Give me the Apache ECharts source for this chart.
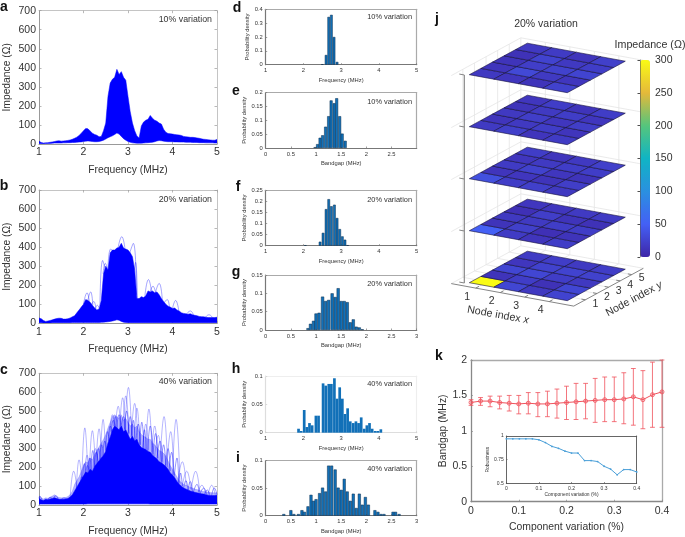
<!DOCTYPE html>
<html><head><meta charset="utf-8">
<style>html,body{margin:0;padding:0;background:#fff}#c{width:685px;height:537px}</style>
<script src="https://cdn.jsdelivr.net/npm/echarts@6/dist/echarts.min.js"></script>
</head><body><div id="c"></div>
<script>
const freqMHz=[1.00,1.05,1.10,1.15,1.20,1.25,1.30,1.35,1.40,1.45,
1.50,1.55,1.60,1.65,1.70,1.75,1.80,1.85,1.90,1.95,
2.00,2.05,2.10,2.15,2.20,2.25,2.30,2.35,2.40,2.45,
2.50,2.55,2.60,2.65,2.70,2.75,2.80,2.85,2.90,2.95,
3.00,3.05,3.10,3.15,3.20,3.25,3.30,3.35,3.40,3.45,
3.50,3.55,3.60,3.65,3.70,3.75,3.80,3.85,3.90,3.95,
4.00,4.05,4.10,4.15,4.20,4.25,4.30,4.35,4.40,4.45,
4.50,4.55,4.60,4.65,4.70,4.75,4.80,4.85,4.90,4.95,5.00];

const aUpper=[15,8,5,6,7,9,11,13,16,17,
15,16,17,19,21,25,30,36,45,56,
70,82,80,68,57,50,46,38,40,70,
110,250,320,340,350,392,365,380,350,335,
250,170,110,70,42,32,95,115,125,130,
150,135,125,120,110,105,78,62,55,54,
52,50,48,47,45,40,38,37,35,35,
34,32,30,27,25,24,22,21,20,20,24];
const aLower=[2,1,1,2,3,3,4,5,5,5,
5,6,6,7,7,8,8,9,10,11,
13,15,16,15,13,12,12,13,16,20,
26,33,38,43,50,58,52,40,28,20,
13,9,6,5,4,4,4,5,6,7,
8,9,12,16,18,17,15,13,12,12,
12,11,11,10,10,10,9,9,9,8,
8,8,7,7,7,6,6,6,6,5,5];

const bUpper=[28,24,15,10,12,15,18,22,25,27,
26,22,22,24,28,34,40,55,70,85,
100,125,120,110,95,80,70,75,120,260,
300,280,370,385,385,395,400,420,395,390,
385,370,350,280,130,130,140,135,145,170,
165,170,160,165,150,130,115,100,90,85,
78,80,70,65,55,52,50,48,50,45,
42,40,36,35,34,32,30,30,30,30,32];
const bLower=[3,3,2,2,2,2,3,3,3,3,
3,3,3,3,3,4,4,4,4,4,
4,4,4,4,4,4,4,4,5,6,
7,8,10,12,15,18,16,10,6,4,
3,3,3,3,3,3,3,3,3,3,
3,3,3,3,3,3,3,3,3,3,
3,3,3,3,3,3,3,3,3,3,
3,3,3,3,3,3,3,3,3,3,3];
const bSpikes=[[2.00,100,2.08,160,2.13,115],[2.09,110,2.16,165,2.21,95],[2.17,90,2.23,115,2.28,75],[2.26,75,2.31,95,2.36,75],
[2.37,90,2.43,330,2.49,280],[2.44,260,2.49,315,2.54,280],[2.55,290,2.61,390,2.66,380],[2.78,400,2.86,455,2.93,395],[3.04,370,3.12,420,3.19,150],[3.14,280,3.17,320,3.21,130],
[3.38,145,3.46,230,3.53,165],[3.50,165,3.56,195,3.62,160],[3.62,165,3.70,210,3.77,125],[3.82,110,3.88,125,3.93,88],[4.00,78,4.07,120,4.14,68],[4.32,50,4.40,65,4.47,45],[4.74,32,4.82,45,4.90,30]];

const cDense=[35,28,24,30,28,32,35,38,34,30,
30,30,32,35,42,55,75,95,115,135,
155,175,170,190,180,205,220,235,250,265,
285,330,360,400,420,410,400,420,390,400,
375,350,365,340,350,320,305,300,295,285,
280,265,255,245,230,225,215,205,190,170,
160,145,125,110,100,90,85,80,75,72,
68,65,62,60,58,55,52,50,50,50,52];
const cHaze=[45,38,32,38,36,42,48,55,44,40,
38,38,40,45,55,75,110,130,150,180,
210,230,225,250,240,270,290,310,330,350,
375,410,440,470,480,470,460,480,450,460,
440,420,430,410,420,390,375,365,360,350,
350,330,320,305,290,285,275,260,235,210,
190,170,150,130,120,110,105,100,95,90,
85,82,78,75,72,70,68,66,65,65,65];
const cLower=[5,5,5,5,5,5,5,5,5,5,
5,5,5,5,5,5,5,5,5,5,
5,5,6,6,6,6,6,6,6,6,
6,6,6,6,6,6,6,6,6,6,
6,6,6,6,6,6,6,6,6,6,
5,5,5,5,5,5,5,5,5,5,
5,5,5,5,5,5,5,5,5,5,
5,5,5,5,5,5,5,5,5,5,5];
const cSpikes=[[1.70,40,1.78,180,1.86,70],[1.84,80,1.90,240,1.97,110],[1.96,120,2.03,410,2.10,140],[2.02,150,2.08,265,2.14,160],
[2.13,170,2.20,395,2.27,200],[2.21,170,2.27,300,2.33,210],[2.28,200,2.35,405,2.41,230],[2.38,240,2.44,455,2.50,260],
[2.58,330,2.65,480,2.71,400],[2.71,400,2.78,525,2.84,400],[2.81,400,2.88,570,2.94,400],[2.88,400,2.95,580,3.02,380],[2.93,400,3.01,625,3.08,370],
[3.07,360,3.15,540,3.22,340],[3.14,340,3.20,515,3.27,320],[3.33,300,3.40,430,3.46,290],[3.40,290,3.47,510,3.54,280],[3.53,270,3.60,420,3.67,240],
[3.60,260,3.68,370,3.75,230],[3.72,230,3.81,470,3.89,200],[3.87,200,3.96,390,4.03,160],[4.00,160,4.08,455,4.17,110],[4.12,120,4.22,230,4.31,100],
[4.22,100,4.32,180,4.41,85],[4.42,80,4.52,180,4.61,70],[4.58,70,4.66,105,4.74,60],[4.80,55,4.88,105,4.96,55]];
const cFine=[[1.92,90,1.96,150,2.0,120],[1.98,130,2.02,220,2.06,150],[2.05,160,2.09,210,2.13,170],[2.1,170,2.14,250,2.18,180],[2.16,180,2.21,290,2.25,200],[2.24,200,2.29,280,2.33,220],[2.3,220,2.34,300,2.38,240],[2.36,240,2.41,320,2.45,260],[2.43,260,2.48,340,2.52,290],[2.5,290,2.54,390,2.58,340],[2.56,340,2.6,420,2.64,380],[2.62,390,2.67,450,2.71,420],[2.68,420,2.72,470,2.76,410],[2.74,400,2.8,480,2.84,420],[2.84,410,2.9,470,2.94,400],[2.92,400,2.97,500,3.02,380],[3.0,370,3.05,470,3.1,360],[3.08,360,3.12,450,3.16,340],[3.18,340,3.23,430,3.28,320],[3.26,310,3.31,440,3.36,300],[3.34,300,3.37,400,3.41,295],[3.44,285,3.5,420,3.56,270],[3.56,260,3.62,380,3.67,250],[3.65,245,3.72,340,3.78,225],[3.75,225,3.8,320,3.85,210],[3.84,205,3.9,300,3.95,180],[3.92,180,3.98,280,4.03,160],[4.04,150,4.1,250,4.14,115],[4.14,110,4.18,170,4.22,100],[4.25,90,4.3,130,4.35,80],[4.35,80,4.4,125,4.45,72],[4.47,70,4.55,110,4.6,62],[4.62,60,4.7,90,4.77,55],[4.72,55,4.78,80,4.84,52],[4.88,50,4.94,90,5.0,55],[1.0,35,1.02,48,1.06,30],[1.2,28,1.25,40,1.3,35],[1.33,38,1.38,50,1.43,32],[1.5,30,1.56,38,1.62,32]];

const histD=[[2.50,.003],[2.60,.07],[2.67,.345],[2.74,.36],[2.81,.2],[2.89,.02]];
const histE=[[.98,.003],[1.03,.014],[1.08,.037],[1.13,.046],[1.19,.077],[1.25,.115],[1.30,.172],[1.36,.162],[1.41,.18],[1.47,.115],[1.52,.052],[1.58,.026]];
const histF=[[2.05,.002],[2.44,.018],[2.52,.058],[2.60,.165],[2.67,.21],[2.74,.178],[2.82,.185],[2.89,.125],[2.96,.075],[3.03,.042],[3.10,.027],[3.17,.002]];
const histG=[[.84,.005],[.89,.017],[.95,.025],[1.0,.045],[1.06,.047],[1.13,.091],[1.19,.079],[1.25,.082],[1.32,.1],[1.38,.09],[1.44,.114],[1.5,.079],[1.56,.079],[1.62,.076],[1.68,.021],[1.74,.029],[1.8,.009],[1.86,.007],[1.92,.002]];
const histH=[[1.87,.007],[1.94,.003],[2.02,.04],[2.09,.01],[2.16,.017],[2.23,.013],[2.33,.03],[2.40,.03],[2.52,.087],[2.59,.083],[2.67,.086],[2.74,.086],[2.82,.096],[2.89,.06],[2.96,.08],[3.03,.06],[3.10,.033],[3.17,.043],[3.24,.02],[3.32,.017],[3.39,.02],[3.46,.017],[3.53,.027],[3.61,.007],[3.68,.013],[3.75,.017],[3.82,.007],[3.90,.003],[3.97,.003],[4.05,.006]];
const histI=[[.36,.003],[.5,.01],[.56,.003],[.65,.003],[.72,.01],[.77,.007],[.84,.017],[.9,.038],[.95,.027],[1.0,.03],[1.07,.041],[1.13,.051],[1.19,.044],[1.25,.091],[1.31,.091],[1.38,.084],[1.44,.051],[1.5,.047],[1.56,.067],[1.62,.044],[1.68,.027],[1.74,.04],[1.8,.014],[1.86,.04],[1.92,.02],[1.98,.034],[2.04,.02],[2.17,.01],[2.23,.007],[2.29,.003],[2.35,.003],[2.53,.007],[2.58,.007],[2.65,.003]];

const variation=[0,.02,.04,.06,.08,.1,.12,.14,.16,.18,.2,.22,.24,.26,.28,.3,.32,.34,.36,.38,.4];
const bandgapMean=[1.40,1.42,1.42,1.40,1.39,1.38,1.39,1.38,1.38,1.39,1.40,1.41,1.42,1.43,1.44,1.44,1.45,1.48,1.44,1.51,1.55];
const bandgapHigh=[1.44,1.47,1.49,1.49,1.50,1.50,1.54,1.54,1.56,1.59,1.63,1.67,1.67,1.74,1.76,1.76,1.82,1.88,1.85,1.97,2.0];
const bandgapLow=[1.36,1.36,1.34,1.31,1.28,1.24,1.24,1.20,1.20,1.18,1.16,1.16,1.17,1.12,1.13,1.13,1.10,1.08,1.03,1.05,1.05];
const robustness=[.97,.97,.97,.97,.97,.96,.93,.89,.87,.84,.82,.82,.74,.74,.73,.68,.65,.59,.645,.645,.62];

// impedance per plane: layer -> node x -> node y
const planes=[
[[300,12,28,14,18],[28,20,28,24,20],[16,10,20,25,17],[25,28,16,24,20]],
[[50,12,16,9,14],[18,22,17,21,14],[13,9,20,12,17],[20,12,20,10,18]],
[[36,13,18,14,20],[20,14,24,17,13],[22,12,14,20,16],[16,21,12,20,22]],
[[17,13,16,12,14],[22,16,21,17,20],[13,20,14,20,12],[18,13,21,14,20]],
[[16,13,12,10,16],[14,30,21,25,18],[12,17,24,16,13],[24,14,26,20,22]]
];
const nodeXTicks=['1','2','3','4'];
const nodeYTicks=['1','2','3','4','5'];
const colorbarStops=['#3e26a8','#4460f5','#2a90e0','#10b4c4','#55c57c','#e5b93a','#f9fb15'];

// oblique projection of the 3D panel (settings, not data)
const O=[469.3,282.7],U=[24.5,4.5],V=[11.6,-6.3],W=[0,-52];
const proj=(a,b,z)=>[O[0]+a*U[0]+b*V[0]+z*W[0],O[1]+a*U[1]+b*V[1]+z*W[1]];

const FONT='"Liberation Sans",Arial,sans-serif';
const grid=[],xAxis=[],yAxis=[],series=[],graphic=[];

function addAxes(box,o){
  const g=grid.length;
  grid.push({left:box[0],top:box[1],width:box[2]-box[0],height:box[3]-box[1],show:false,containLabel:false});
  const line={lineStyle:{color:o.lineColor,width:o.lineWidth}};
  const xi=xAxis.length,yi=yAxis.length;
  const lab={fontFamily:FONT,fontSize:o.tick,color:o.textColor||'#333',margin:o.margin||3};
  xAxis.push({gridIndex:g,type:'value',min:o.x[0],max:o.x[1],interval:o.x[2],position:'bottom',splitLine:{show:false},
    axisLine:{show:true,onZero:false,...line},axisTick:{inside:true,length:o.tickLen,lineStyle:{color:o.tickColor||o.lineColor,width:.7}},
    axisLabel:{...lab,showMaxLabel:o.showMaxX!==false,formatter:v=>String(+v.toFixed(2))},
    name:o.xName,nameLocation:'middle',nameGap:o.xGap,nameTextStyle:{fontFamily:FONT,fontSize:o.name,color:'#333'}});
  yAxis.push({gridIndex:g,type:'value',min:o.y[0],max:o.y[1],interval:o.y[2],position:'left',splitLine:{show:false},
    axisLine:{show:true,onZero:false,...line},axisTick:{inside:true,length:o.tickLen,lineStyle:{color:o.tickColor||o.lineColor,width:.7}},
    axisLabel:{...lab,formatter:v=>String(+v.toFixed(3))},
    name:o.yName,nameLocation:'middle',nameGap:o.yGap,nameRotate:90,nameTextStyle:{fontFamily:FONT,fontSize:o.name,color:'#333'}});
  xAxis.push({gridIndex:g,type:'value',min:o.x[0],max:o.x[1],interval:o.x[2],position:'top',splitLine:{show:false},
    axisLine:{show:true,onZero:false,lineStyle:{color:o.boxColor||o.lineColor,width:o.lineWidth}},
    axisTick:{show:!!o.boxTicks,inside:true,length:o.tickLen,lineStyle:{color:o.lineColor,width:.7}},axisLabel:{show:false}});
  yAxis.push({gridIndex:g,type:'value',min:o.y[0],max:o.y[1],interval:o.y[2],position:'right',splitLine:{show:false},
    axisLine:{show:true,onZero:false,lineStyle:{color:o.boxColor||o.lineColor,width:o.lineWidth}},
    axisTick:{show:!!o.boxTicks,inside:true,length:o.tickLen,lineStyle:{color:o.lineColor,width:.7}},axisLabel:{show:false}});
  return {xi,yi};
}
// filled envelope between two curves, drawn once from all rows of the series
function band(ax,lower,upper,opacity){
  series.push({type:'custom',xAxisIndex:ax.xi,yAxisIndex:ax.yi,silent:true,animation:false,clip:true,
    data:freqMHz.map((f,i)=>[f,lower[i],upper[i]]),encode:{x:0,y:[1,2]},
    renderItem(p,api){
      if(p.dataIndexInside!==0) return null;
      const top=[],bot=[];
      for(let i=0;i<p.dataInsideLength;i++){
        top.push(api.coord([api.value(0,i),api.value(2,i)]));
        bot.push(api.coord([api.value(0,i),api.value(1,i)]));
      }
      return {type:'polygon',shape:{points:top.concat(bot.reverse())},style:{fill:'#0000ff',stroke:'#0000ff',lineWidth:.5,opacity}};
    }});
}
function spikes(ax,list,opacity){
  const data=[];
  list.forEach(s=>{data.push([s[0],s[1]],[s[2],s[3]],[s[4],s[5]],[s[4],'-']);});
  series.push({type:'line',xAxisIndex:ax.xi,yAxisIndex:ax.yi,symbol:'none',smooth:.5,connectNulls:false,silent:true,animation:false,
    data,lineStyle:{width:.7,color:'#0000ff',opacity}});
}
function label(text,x,y,o){graphic.push({type:'text',x,y,silent:true,z:50,rotation:o&&o.rotation||0,style:{text,fill:o&&o.fill||'#333',font:(o&&o.font)||'8.8px '+FONT,textAlign:o&&o.align||'right',textVerticalAlign:'middle',rich:o&&o.rich}});}

const wide={x:[1,5,1],y:[0,700,100],tick:10.5,name:10.3,tickLen:2.5,lineColor:'#999',boxColor:'#c4c4c4',lineWidth:1,boxTicks:true,xName:'Frequency (MHz)',yName:'Impedance (Ω)',xGap:21,yGap:27,margin:3};
const axA=addAxes([39,10.7,217,144],wide);
band(axA,aLower,aUpper,1);
const axB=addAxes([39,190,217,323.3],wide);
band(axB,bLower,bUpper,1); spikes(axB,bSpikes,.5);
const axC=addAxes([39,373.3,217,506.7],wide);
band(axC,cLower,cHaze,.3); band(axC,cLower,cDense,1); spikes(axC,cFine,.6); spikes(axC,cSpikes,.42);

function hist(box,data,xr,yr,xName,width,o){
  const ax=addAxes(box,{x:xr,y:yr,tick:5.8,name:5.8,tickLen:1.5,lineColor:'#777',boxColor:'#aaa',lineWidth:1.2,xName,yName:'Probability density',xGap:12.5,yGap:o.yGap||18,margin:3,...o});
  series.push({type:'bar',xAxisIndex:ax.xi,yAxisIndex:ax.yi,data,barWidth:width,silent:true,animation:false,
    itemStyle:{color:'#1170b8',borderColor:o.edge||'#0b2c4c',borderWidth:o.edgeW===undefined?.5:o.edgeW}});
}
hist([265.7,9.3,416.7,64.7],histD,[1,5,1],[0,.4,.1],'Frequency (MHz)',2.6,{yGap:13});
hist([265.7,92.7,416.7,148],histE,[0,3,.5],[0,.2,.05],'Bandgap (MHz)',2.9,{showMaxX:false,yGap:16});
hist([265.7,190.3,416.7,245.7],histF,[1,5,1],[0,.25,.05],'Frequency (MHz)',2.6,{yGap:16});
hist([265.7,275,416.7,330],histG,[0,3,.5],[0,.15,.05],'Bandgap (MHz)',3.1,{yGap:16});
hist([265.7,376,416.7,432.7],histH,[1,5,1],[0,.1,.05],'Frequency (MHz)',2.7,{lineColor:'#ddd',boxColor:'#eee',tickColor:'#ccc',edge:'#1170b8',edgeW:0,yGap:16});
hist([265.7,460.7,416.7,515.7],histI,[0,3,.5],[0,.1,.05],'Bandgap (MHz)',3,{yGap:16});

// panel k
const axK=addAxes([471,360,662,501.7],{x:[0,.4,.1],y:[0,2,.5],tick:10.5,name:10.4,tickLen:2,lineColor:'#888',boxColor:'#aaa',lineWidth:1.3,xName:'Component variation (%)',yName:'Bandgap (MHz)',xGap:20,yGap:22,margin:4});
series.push({type:'custom',xAxisIndex:axK.xi,yAxisIndex:axK.yi,silent:true,animation:false,
  data:variation.map((v,i)=>[v,bandgapLow[i],bandgapHigh[i]]),encode:{x:0,y:[1,2]},
  renderItem(p,api){
    const a=api.coord([api.value(0),api.value(1)]),b=api.coord([api.value(0),api.value(2)]),w=2.4;
    const st={stroke:'#f0525c',lineWidth:1,fill:null,opacity:.8};
    return {type:'group',children:[
      {type:'line',shape:{x1:a[0],y1:a[1],x2:b[0],y2:b[1]},style:st},
      {type:'line',shape:{x1:a[0]-w,y1:a[1],x2:a[0]+w,y2:a[1]},style:st},
      {type:'line',shape:{x1:b[0]-w,y1:b[1],x2:b[0]+w,y2:b[1]},style:st}]};
  }});
series.push({type:'line',xAxisIndex:axK.xi,yAxisIndex:axK.yi,silent:true,animation:false,data:variation.map((v,i)=>[v,bandgapMean[i]]),
  symbol:'circle',symbolSize:4,lineStyle:{color:'#f0525c',width:1},itemStyle:{color:'rgba(240,82,92,.15)',borderColor:'#f0525c',borderWidth:.8}});
const axIn=addAxes([506.3,436,636.7,483.3],{x:[0,.4,.1],y:[.5,1,.25],tick:5,name:4.9,tickLen:1.2,lineColor:'#555',lineWidth:.9,xName:'Component variation (%)',yName:'Robustness',xGap:8,yGap:13,margin:2.5});
series.push({type:'line',xAxisIndex:axIn.xi,yAxisIndex:axIn.yi,silent:true,animation:false,data:variation.map((v,i)=>[v,robustness[i]]),
  symbol:'circle',symbolSize:1.8,lineStyle:{color:'#4a9fd8',width:1},itemStyle:{color:'#4a9fd8'}});

// panel j: hidden page-sized cartesian used for the projected planes
const gi=grid.length;
grid.push({left:0,top:0,width:685,height:537,show:false});
const jx=xAxis.length,jy=yAxis.length;
xAxis.push({gridIndex:gi,type:'value',min:0,max:685,show:false});
yAxis.push({gridIndex:gi,type:'value',min:0,max:537,inverse:true,show:false});

// wall / floor guide lines: [a0,b0,z0,a1,b1,z1,kind]
const aMin=-.5,aMax=4.5,bMin=-.5,bMax=5.5,zTop=4;
const guides=[];
[0,1,2,3,4].forEach(z=>{guides.push([aMin,bMin,z,aMin,bMax,z,0],[aMin,bMax,z,aMax,bMax,z,0]);});
nodeXTicks.forEach((t,i)=>{const a=i+.5;guides.push([a,bMax,0,a,bMax,zTop,0],[a,bMin,0,a,bMax,0,0]);});
nodeYTicks.forEach((t,i)=>{const b=i+.5;guides.push([aMin,b,0,aMin,b,zTop,0],[aMin,b,0,aMax,b,0,0]);});
guides.push([aMin,bMax,0,aMin,bMax,zTop,0]);
guides.push([aMin,bMin,0,aMax,bMin,0,1],[aMax,bMin,0,aMax,bMax,0,1]);
[0,1,2,3,4].forEach(z=>{guides.push([-.135,-.144,z,-.34,-.144,z,1]);});
guides.push([-.135,-.144,0,-.135,-.144,zTop,2]);
nodeXTicks.forEach((t,i)=>{guides.push([i+.5,bMin,0,i+.5,bMin+.28,0,1]);});
nodeYTicks.forEach((t,i)=>{guides.push([aMax,i+.5,0,aMax-.16,i+.5,0,1]);});
const guideStyle=[{stroke:'#e4e4e4',lineWidth:.8},{stroke:'#777',lineWidth:.9},{stroke:'#8a8a8a',lineWidth:1.2}];
series.push({type:'custom',xAxisIndex:jx,yAxisIndex:jy,silent:true,animation:false,data:guides,encode:{x:0,y:1},z:1,
  renderItem(p,api){
    const v=i=>api.value(i);
    const a=api.coord(proj(v(0),v(1),v(2))),b=api.coord(proj(v(3),v(4),v(5)));
    return {type:'line',shape:{x1:a[0],y1:a[1],x2:b[0],y2:b[1]},style:guideStyle[v(6)]};
  }});

const cells=[];
planes.forEach((pl,z)=>pl.forEach((row,a)=>row.forEach((val,b)=>cells.push([a,b,z,val]))));
const cellSeriesIndex=series.length;
series.push({type:'custom',xAxisIndex:jx,yAxisIndex:jy,silent:true,animation:false,data:cells,dimensions:['a','b','z','impedance'],encode:{x:0,y:1},z:3,
  renderItem(p,api){
    const a=api.value(0),b=api.value(1),z=api.value(2);
    const pts=[[a,b],[a+1,b],[a+1,b+1],[a,b+1]].map(q=>api.coord(proj(q[0],q[1],z)));
    return {type:'polygon',shape:{points:pts},style:{fill:api.visual('color'),stroke:'#15103a',lineWidth:.6}};
  }});

// colour bar axis
const gb=grid.length;
grid.push({left:640,top:60,width:10,height:197,show:false});
xAxis.push({gridIndex:gb,type:'value',min:0,max:1,position:'bottom',axisLabel:{show:false},axisTick:{show:false},splitLine:{show:false},axisLine:{show:false}});
yAxis.push({gridIndex:gb,type:'value',min:0,max:300,interval:50,position:'right',z:9,splitLine:{show:false},
  axisLine:{show:true,lineStyle:{color:'#555',width:.6}},axisTick:{inside:true,length:2.5,lineStyle:{color:'#222',width:.8}},
  axisLabel:{fontFamily:FONT,fontSize:10.5,color:'#333',margin:5}});

label('10% variation',212,20); label('20% variation',212,200); label('40% variation',212,382);
[[412,17,'10%'],[412,102,'10%'],[412,200,'20%'],[412,284,'20%'],[412,384,'40%'],[412,469,'40%']].forEach(t=>label(t[2]+' variation',t[0],t[1],{font:'7.4px '+FONT}));
label('20% variation',546,24,{font:'10.5px '+FONT,align:'center'});
label('Impedance (Ω)',650,45,{font:'10.7px '+FONT,align:'center'});
nodeXTicks.forEach((t,i)=>{const p=proj(i+.5,bMin,0);label(t,p[0]-8.5,p[1]+9,{font:'10.5px '+FONT,align:'center'});});
nodeYTicks.forEach((t,i)=>{const p=proj(aMax,i+.5,0);label(t,p[0]+10,p[1]+4,{font:'10.5px '+FONT,align:'center'});});
label('{n|Node index }{i|x}',498,315,{align:'center',rotation:-10*Math.PI/180,rich:{n:{font:'10.7px '+FONT,fill:'#333'},i:{font:'italic 10.7px '+FONT,fill:'#333'}}});
label('{n|Node index }{i|y}',634,299,{align:'center',rotation:28.5*Math.PI/180,rich:{n:{font:'10.7px '+FONT,fill:'#333'},i:{font:'italic 10.7px '+FONT,fill:'#333'}}});
const letters=[['a',4,7],['b',4,186],['c',4,370],['d',237,8],['e',236,91],['f',238,187],['g',236,272],['h',236,369],['i',238,458],['j',437,19],['k',439,356]];
letters.forEach(l=>label(l[0],l[1],l[2],{font:'bold 14px '+FONT,fill:'#111',align:'center'}));

const chart=echarts.init(document.getElementById('c'),null,{renderer:'canvas'});
chart.setOption({animation:false,backgroundColor:'#fff',grid,xAxis,yAxis,series,graphic:{elements:graphic},
  visualMap:[{type:'continuous',min:0,max:300,dimension:3,seriesIndex:cellSeriesIndex,left:640,top:60,padding:0,itemWidth:10,itemHeight:197,
    calculable:false,showLabel:false,text:null,inRange:{color:colorbarStops},z:4}]});
</script></body></html>
